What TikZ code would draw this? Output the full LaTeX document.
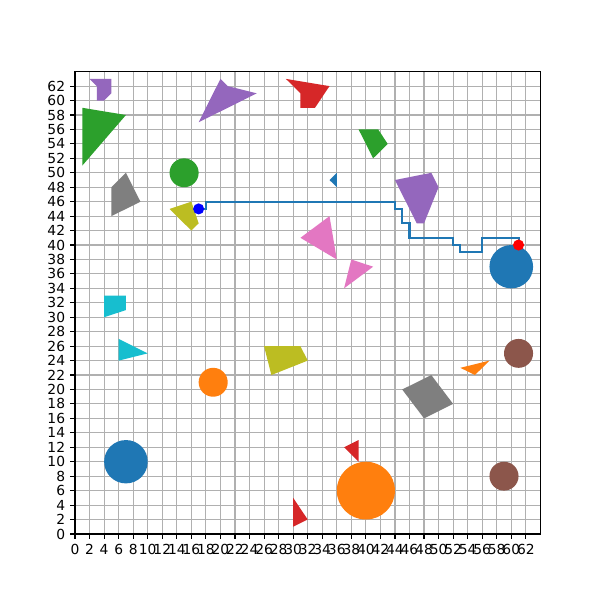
\documentclass[tikz,border=0pt]{standalone}
\usepackage{fontspec}
\setmainfont{DejaVu Sans}
\definecolor{tabblue}{HTML}{1F77B4}
\definecolor{taborange}{HTML}{FF7F0E}
\definecolor{tabgreen}{HTML}{2CA02C}
\definecolor{tabred}{HTML}{D62728}
\definecolor{tabpurple}{HTML}{9467BD}
\definecolor{tabbrown}{HTML}{8C564B}
\definecolor{tabpink}{HTML}{E377C2}
\definecolor{tabgray}{HTML}{7F7F7F}
\definecolor{tabolive}{HTML}{BCBD22}
\definecolor{tabcyan}{HTML}{17BECF}
\definecolor{gridgray}{HTML}{B0B0B0}
\tikzset{
  gridline/.style={draw=gridgray, line width=0.8pt},
  spine/.style={draw=black, line width=0.8pt},
  tickmark/.style={draw=black, line width=0.8pt},
  ticklabel/.style={inner sep=0pt, font=\fontsize{10}{12}\selectfont},
  route/.style={draw=tabblue, line width=1.5pt, line join=miter},
}
\begin{document}
\begin{tikzpicture}[x=0.01in,y=0.01in]
\useasboundingbox (0,0) rectangle (600,600);
\fill[white] (0,0) rectangle (600,600);
\begin{scope}[shift={(0.75in,0.66in)},x=0.07265625in,y=0.0721875in]
  % grid
  \foreach \i in {2,4,...,62} {
    \draw[gridline] (\i,0) -- (\i,64);
    \draw[gridline] (0,\i) -- (64,\i);
  }
  % obstacles
  \fill[tabpurple] (2,63) -- (5,63) -- (5,61) -- (4,60) -- (3,60) -- (3,62) -- cycle;
  \fill[tabgreen] (1,59) -- (7,58) -- (1,51) -- cycle;
  \fill[tabpurple] (20,63) -- (21,62) -- (25,61) -- (17,57) -- cycle;
  \fill[tabred] (29,63) -- (35,62) -- (33,59) -- (31,59) -- (31,61) -- cycle;
  \fill[tabgreen] (39,56) -- (41.7,56) -- (43,54) -- (41,52) -- cycle;
  \fill[tabgreen] (15,50) circle [radius=2];
  \fill[tabgray] (5,48) -- (7,50) -- (9,46) -- (5,44) -- cycle;
  \fill[tabolive] (13,45) -- (16,46) -- (17,43) -- (16,42) -- cycle;
  \fill[tabblue] (35,49) -- (36,50) -- (36,48) -- cycle;
  \fill[tabpurple] (44,49) -- (49,50) -- (50,48) -- (48,43) -- (47,43) -- cycle;
  \fill[tabpink] (31,41) -- (35,44) -- (36,38) -- cycle;
  \fill[tabpink] (38,38) -- (41,37) -- (37,34) -- cycle;
  \fill[tabblue] (60,37) circle [radius=3];
  \fill[tabcyan] (4,33) -- (7,33) -- (7,31) -- (4,30) -- cycle;
  \fill[tabcyan] (6,27) -- (10,25) -- (6,24) -- cycle;
  \fill[tabolive] (26,26) -- (31,26) -- (32,24) -- (27,22) -- cycle;
  \fill[taborange] (19,21) circle [radius=2];
  \fill[tabbrown] (61,25) circle [radius=2];
  \fill[taborange] (53,23) -- (57,24) -- (55,22) -- cycle;
  \fill[tabgray] (45,20) -- (49,22) -- (52,18) -- (48,16) -- cycle;
  \fill[tabred] (37,12) -- (39,13) -- (39,10) -- cycle;
  \fill[tabblue] (7,10) circle [radius=3];
  \fill[tabbrown] (59,8) circle [radius=2];
  \fill[taborange] (40,6) circle [radius=4];
  \fill[tabred] (30,5) -- (32,2) -- (30,1) -- cycle;
  % route
  \coordinate (start) at (17,45);
  \coordinate (goal) at (61,40);
  \draw[route] (start) -- (18,45) -- (18,46) -- (44,46) -- (44,45) -- (45,45)
    -- (45,43) -- (46,43) -- (46,41) -- (52,41) -- (52,40) -- (53,40)
    -- (53,39) -- (56,39) -- (56,41) -- (61,41) -- (goal);
  \fill[blue] (start) circle [radius=4pt];
  \fill[red] (goal) circle [radius=4pt];
  % spines
  \draw[spine] (0,0) rectangle (64,64);
  % ticks
  \foreach \i in {0,2,...,62} {
    \draw[tickmark] (\i,0) -- ++(0,-3.5pt);
    \node[ticklabel, anchor=north] (xl\i) at ([yshift=-7pt]\i,0) {\i};
    \draw[tickmark] (0,\i) -- ++(-3.5pt,0);
    \node[ticklabel, anchor=east] (yl\i) at ([xshift=-7pt]0,\i) {\i};
  }
\end{scope}
\end{tikzpicture}
\end{document}
